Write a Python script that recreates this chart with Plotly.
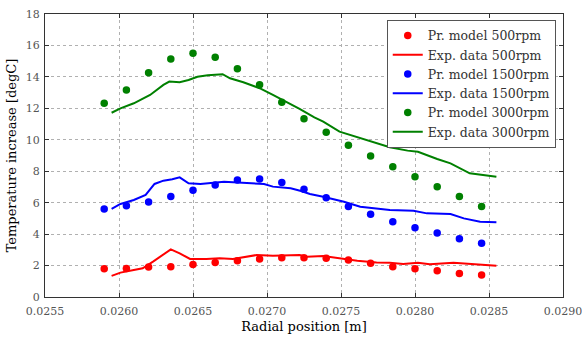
import plotly.graph_objects as go

# Model points (radial position, m)
model_x = [0.02590, 0.02605, 0.02620, 0.02635, 0.02650, 0.02665, 0.02680, 0.02695, 0.02710,
           0.02725, 0.02740, 0.02755, 0.02770, 0.02785, 0.02800, 0.02815, 0.02830, 0.02845]
model_500 = [1.80, 1.82, 1.91, 1.93, 2.06, 2.20, 2.31, 2.42, 2.50, 2.50, 2.46, 2.35, 2.14,
             1.93, 1.80, 1.67, 1.50, 1.40]
model_1500 = [5.60, 5.81, 6.04, 6.40, 6.79, 7.12, 7.44, 7.50, 7.29, 6.85, 6.32, 5.75, 5.26,
              4.79, 4.41, 4.07, 3.71, 3.42]
model_3000 = [12.32, 13.17, 14.27, 15.14, 15.50, 15.25, 14.52, 13.50, 12.38, 11.34, 10.48,
              9.65, 8.97, 8.29, 7.65, 7.02, 6.40, 5.75]

# Experimental data
exp500_x = [0.02595, 0.02601, 0.02610, 0.02616, 0.02623, 0.02635, 0.02641, 0.02648, 0.02659,
            0.02668, 0.02677, 0.02686, 0.02693, 0.02704, 0.02714, 0.02722, 0.02727, 0.02738,
            0.02761, 0.02774, 0.02783, 0.02792, 0.02802, 0.02810, 0.02826, 0.02842, 0.02855]
exp500_y = [1.34, 1.55, 1.72, 1.83, 2.25, 3.03, 2.78, 2.42, 2.42, 2.46, 2.42, 2.56, 2.67,
            2.63, 2.67, 2.67, 2.56, 2.61, 2.31, 2.20, 2.18, 2.10, 2.18, 2.08, 2.18, 2.10, 1.99]
exp1500_x = [0.02595, 0.02601, 0.02610, 0.02618, 0.02624, 0.02630, 0.02636, 0.02641, 0.02647,
             0.02655, 0.02671, 0.02684, 0.02698, 0.02704, 0.02716, 0.02723, 0.02729, 0.02738,
             0.02752, 0.02763, 0.02783, 0.02799, 0.02808, 0.02824, 0.02833, 0.02844, 0.02855]
exp1500_y = [5.60, 5.92, 6.17, 6.49, 7.19, 7.40, 7.49, 7.61, 7.23, 7.19, 7.33, 7.27, 7.19,
             7.02, 6.91, 6.74, 6.55, 6.38, 6.06, 5.74, 5.53, 5.49, 5.32, 5.28, 5.00, 4.79, 4.75]
exp3000_x = [0.02595, 0.02601, 0.02610, 0.02621, 0.02630, 0.02634, 0.02641, 0.02647, 0.02653,
             0.02660, 0.02670, 0.02675, 0.02684, 0.02695, 0.02704, 0.02713, 0.02722, 0.02732,
             0.02738, 0.02749, 0.02768, 0.02783, 0.02795, 0.02802, 0.02815, 0.02824, 0.02837,
             0.02846, 0.02855]
exp3000_y = [11.72, 12.00, 12.32, 12.85, 13.49, 13.70, 13.66, 13.80, 14.01, 14.10, 14.17,
             13.91, 13.66, 13.28, 12.85, 12.42, 11.96, 11.43, 11.15, 10.52, 9.95, 9.52, 9.31,
             9.24, 8.78, 8.50, 7.87, 7.76, 7.65]

x_ticks = [0.0255, 0.0260, 0.0265, 0.0270, 0.0275, 0.0280, 0.0285, 0.0290]
x_tick_labels = ["0.0255", "0.0260", "0.0265", "0.0270", "0.0275", "0.0280", "0.0285", "0.0290"]
y_ticks = [0, 2, 4, 6, 8, 10, 12, 14, 16, 18]

RED, BLUE, GREEN = "#ff0000", "#0000ff", "#008000"
FONT = "DejaVu Serif"

fig = go.Figure()
for name_m, name_e, ys, ex, ey, col in [
    ("Pr. model 500rpm", "Exp. data 500rpm", model_500, exp500_x, exp500_y, RED),
    ("Pr. model 1500rpm", "Exp. data 1500rpm", model_1500, exp1500_x, exp1500_y, BLUE),
    ("Pr. model 3000rpm", "Exp. data 3000rpm", model_3000, exp3000_x, exp3000_y, GREEN),
]:
    fig.add_trace(go.Scatter(x=model_x, y=ys, mode="markers", name=name_m,
                             marker=dict(color=col, size=7.5)))
    fig.add_trace(go.Scatter(x=ex, y=ey, mode="lines", name=name_e,
                             line=dict(color=col, width=2)))

axis_common = dict(showline=True, linecolor="#333", linewidth=1, mirror="allticks",
                   ticks="inside", ticklen=4, tickcolor="#333", automargin=False,
                   showgrid=True, gridcolor="#b0b0b0", griddash="dot", gridwidth=1,
                   zeroline=False, tickfont=dict(family=FONT, size=11, color="#555"))

fig.update_xaxes(range=[0.0255, 0.0290], tickvals=x_ticks, ticktext=x_tick_labels,
                 ticklabelstandoff=4, ticklabeloverflow="allow",
                 title=dict(text="Radial position [m]", font=dict(family=FONT, size=13, color="black"),
                            standoff=4),
                 **axis_common)
fig.update_yaxes(range=[0, 18], tickvals=y_ticks, ticklabelstandoff=2,
                 title=dict(text="Temperature increase [degC]", font=dict(family=FONT, size=13, color="black"),
                            standoff=6),
                 **axis_common)

fig.update_layout(
    width=582, height=338,
    margin=dict(l=45, r=19, t=14, b=41),
    paper_bgcolor="white", plot_bgcolor="white",
    font=dict(family=FONT, size=12, color="#333"),
    legend=dict(x=0.986, y=0.979, xanchor="right", yanchor="top",
                bgcolor="white", bordercolor="#555", borderwidth=1,
                font=dict(family=FONT, size=12.5, color="#333"),
                tracegroupgap=0, itemwidth=30),
    showlegend=True,
)

fig.write_html("out.html", config={"displayModeBar": False},
               post_script="document.body.style.margin='0';document.body.style.padding='0';")
